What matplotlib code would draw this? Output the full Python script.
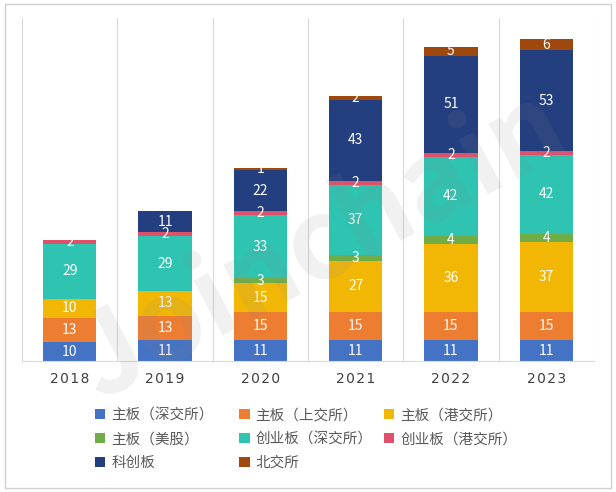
import numpy as np
import matplotlib.pyplot as plt
from matplotlib.patches import Rectangle

plt.rcParams['font.family'] = ['Noto Sans CJK SC', 'DejaVu Sans']

years = ['2018', '2019', '2020', '2021', '2022', '2023']
series = ['主板（深交所）', '主板（上交所）', '主板（港交所）', '主板（美股）',
          '创业板（深交所）', '创业板（港交所）', '科创板', '北交所']
sz_main = [10, 11, 11, 11, 11, 11]
sh_main = [13, 13, 15, 15, 15, 15]
hk_main = [10, 13, 15, 27, 36, 37]
us_main = [0, 0, 3, 3, 4, 4]
sz_gem = [29, 29, 33, 37, 42, 42]
hk_gem = [2, 2, 2, 2, 2, 2]
star = [0, 11, 22, 43, 51, 53]
bse = [0, 0, 1, 2, 5, 6]
values = [sz_main, sh_main, hk_main, us_main, sz_gem, hk_gem, star, bse]
colors = ['#4472C4', '#ED7D31', '#F2B705', '#70AD47',
          '#2EC4B1', '#E0506A', '#243F80', '#9E480E']

fig = plt.figure(figsize=(6.16, 4.92), dpi=100)
fig.patches.append(Rectangle((0.008, 0.008), 0.984, 0.984, transform=fig.transFigure,
                             fill=False, edgecolor='#d0d0d0', linewidth=1))
ax = fig.add_axes([0.036, 0.266, 0.928, 0.697])

x = np.arange(len(years))
bottom = np.zeros(len(years))
handles = []
for name, vals, c in zip(series, values, colors):
    vals = np.array(vals)
    b = ax.bar(x, vals, 0.56, bottom=bottom, color=c, label=name)
    handles.append(b)
    for xi, v, bt in zip(x, vals, bottom):
        if v > 0:
            ax.text(xi, bt + v / 2, str(v), ha='center', va='center',
                    color='white', fontsize=10)
    bottom += vals

ax.set_xlim(-0.5, 5.5)
ax.set_ylim(0, 181)
ax.set_xticks(x)
ax.set_xticklabels(['\u200a'.join(y) for y in years], fontsize=10, color='#404040',
                   family=['DejaVu Sans'])
ax.set_xticks(np.arange(-0.5, 6, 1), minor=True)
ax.grid(which='minor', axis='x', color='#d9d9d9', linewidth=0.8)
ax.set_axisbelow(True)
ax.tick_params(axis='x', which='both', length=0, pad=8)
ax.set_yticks([])
for s in ['top', 'left', 'right']:
    ax.spines[s].set_visible(False)
ax.spines['bottom'].set_color('#d9d9d9')

# watermark
fig.text(0.52, 0.5, 'Joinchain', fontsize=80, fontweight='bold', color='#888888',
         alpha=0.12, rotation=28, ha='center', va='center')

# legend: three fixed-width columns, row-major like the original
cols = [[0, 3, 6], [1, 4, 7], [2, 5]]
col_x = [0.138, 0.372, 0.607]
for idx, cx in zip(cols, col_x):
    leg = fig.legend([handles[i] for i in idx], [series[i] for i in idx],
                     loc='upper left', bbox_to_anchor=(cx, 0.191),
                     frameon=False, fontsize=10.5, handlelength=0.7, handleheight=0.7,
                     handletextpad=0.4, labelspacing=0.68, borderpad=0.2)
    for t in leg.get_texts():
        t.set_color('#595959')

fig.savefig('out.png', dpi=100)
